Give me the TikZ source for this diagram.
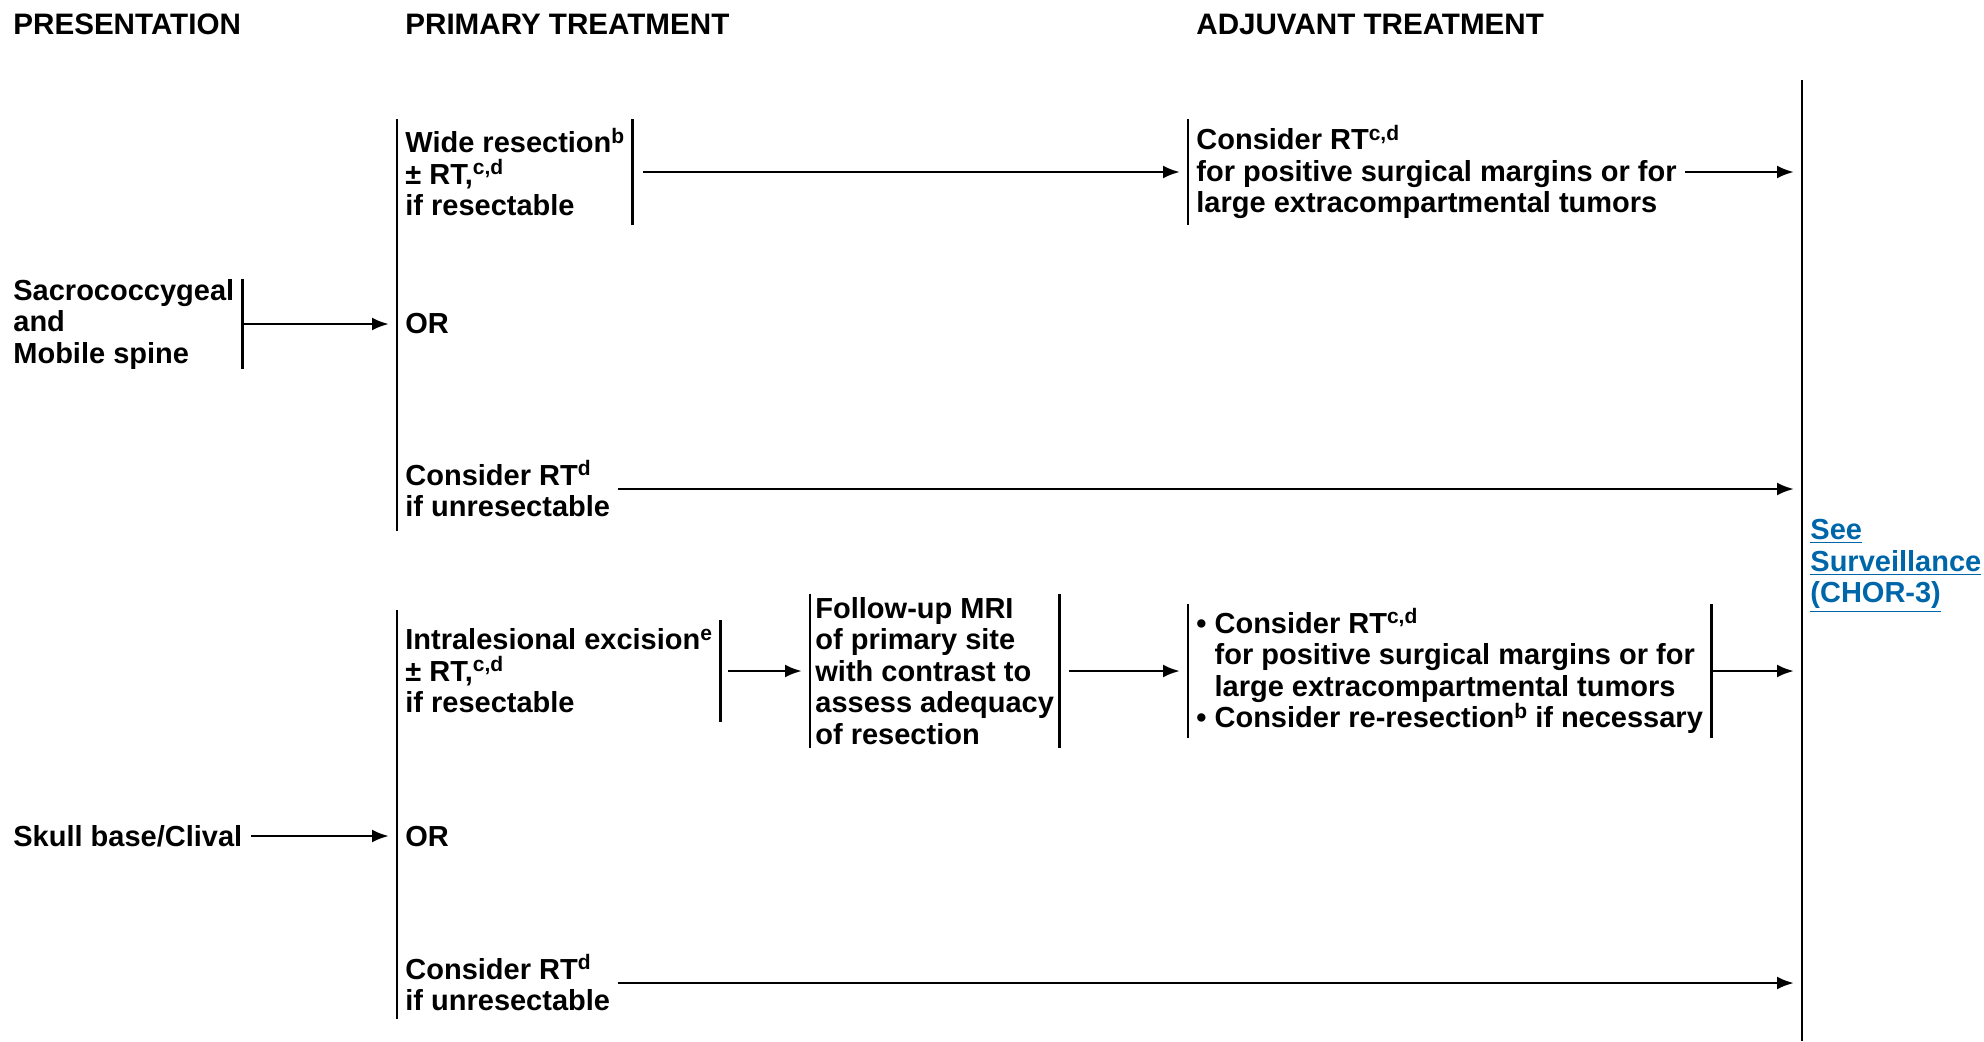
\documentclass[tikz,border=0pt]{standalone}
\usepackage{fontspec}
\setmainfont{Liberation Sans}
\usetikzlibrary{arrows.meta}
\definecolor{linkblue}{RGB}{0,102,170}
\newcommand\sups[1]{\raisebox{0.62ex}{\fontsize{10.5}{10}\selectfont #1}}

\tikzset{
  txt/.style={anchor=west, align=left, inner xsep=4pt, inner ysep=0pt,
    font=\bfseries\fontsize{14.5}{15.75}\selectfont},
  head/.style={txt, font=\bfseries\fontsize{14.8}{16}\selectfont},
  bar/.style={line width=1.25pt},
  arr/.style={-{Latex[length=8.5pt,width=6.5pt]}, line width=1.4pt, shorten >=4pt},
}

\begin{document}
\begin{tikzpicture}[x=0.5pt,y=-0.5pt]
  \useasboundingbox (0,0) rectangle (1984,1041);

  % column heads
  \node[head] (hPres) at (5,24) {PRESENTATION};
  \node[head] (hPrim) at (397,24) {PRIMARY TREATMENT};
  \node[head] (hAdj) at (1188,24) {ADJUVANT TREATMENT};

  % sacrococcygeal / mobile spine
  \node[txt, minimum height=43pt] (sacro) at (5,324) {Sacrococcygeal\\and\\Mobile spine};
  \node[txt, minimum height=52.5pt] (wide) at (397,172) {Wide resection\sups{b}\\± RT,\sups{c,d}\\if resectable};
  \node[txt] (or1) at (397,324) {OR};
  \node[txt, minimum height=42pt] (rtA) at (397,489) {Consider RT\sups{d}\\if unresectable};
  \node[txt, minimum height=52.5pt] (adjA) at (1188,172) {Consider RT\sups{c,d}\\for positive surgical margins or for\\large extracompartmental tumors};

  % skull base / clival
  \node[txt] (skull) at (5,836) {Skull base/Clival};
  \node[txt, minimum height=50.5pt] (intra) at (397,671) {Intralesional excision\sups{e}\\± RT,\sups{c,d}\\if resectable};
  \node[txt] (or2) at (397,836) {OR};
  \node[txt, minimum height=36pt] (rtB) at (397,983) {Consider RT\sups{d}\\if unresectable};
  \node[txt, minimum height=77pt, inner xsep=2.5pt] (mri) at (810,671) {Follow-up MRI\\of primary site\\with contrast to\\assess adequacy\\of resection};
  \node[txt, minimum height=66.5pt] (adjB) at (1188,671) {• Consider RT\sups{c,d}\\\phantom{• }for positive surgical margins or for\\\phantom{• }large extracompartmental tumors\\• Consider re-resection\sups{b} if necessary};

  \node[txt, text=linkblue] (surv) at (1802,566) {\underline{See}\\\underline{Surveillance}\\\underline{(CHOR-3)}};

  % brackets
  \draw[bar] (sacro.north east) -- (sacro.south east);
  \draw[bar] (wide.north west) -- (rtA.south west);
  \draw[bar] (wide.north east) -- (wide.south east);
  \draw[bar] (adjA.north west) -- (adjA.south west);
  \draw[bar] ([yshift=5pt]intra.north west) -- (rtB.south west);
  \draw[bar] (intra.north east) -- (intra.south east);
  \foreach \n in {mri,adjB} {
    \draw[bar] (\n.north west) -- (\n.south west);
    \draw[bar] (\n.north east) -- (\n.south east);
  }
  \draw[bar] (surv.west |- 0,80) -- (surv.west |- 0,1041);

  % arrows
  \draw[arr] (sacro.east) -- (or1.west);
  \draw[arr] (skull.east) -- (or2.west);
  \draw[arr, shorten <=5pt] (wide.east) -- (adjA.west);
  \draw[arr, shorten <=4pt] (intra.east) -- (mri.west);
  \draw[arr, shorten <=5pt] (mri.east) -- (adjB.west);
  \foreach \n in {adjA,rtA,adjB,rtB}
    \draw[arr] (\n.east) -- (\n.east -| surv.west);
\end{tikzpicture}
\end{document}
